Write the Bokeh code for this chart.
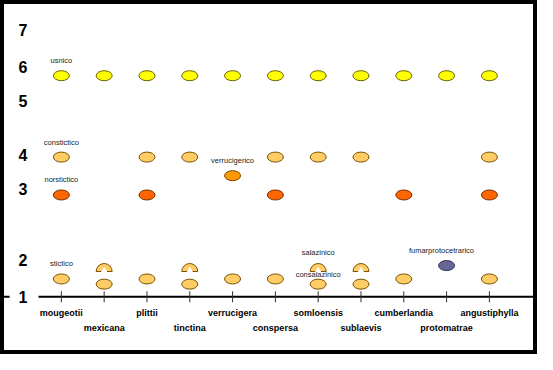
import math
from bokeh.plotting import figure
from bokeh.models import Range1d, Span
from bokeh.core.properties import value
from bokeh.embed import file_html
from bokeh.resources import INLINE

species = ["mougeotii", "mexicana", "plittii", "tinctina", "verrucigera", "conspersa",
           "somloensis", "sublaevis", "cumberlandia", "protomatrae", "angustiphylla"]

y_tick_values = [1, 2, 3.89, 4.82, 6.26, 7.18, 8.18]
y_tick_labels = ["1", "2", "3", "4", "5", "6", "7"]

# substance rows: level and species in which the substance is present
usnico_species = species[:]
usnico_level = 6.95
constictico_species = ["mougeotii", "plittii", "tinctina", "conspersa", "somloensis", "sublaevis", "angustiphylla"]
constictico_level = 4.76
verrucigerico_species = ["verrucigera"]
verrucigerico_level = 4.26
norstictico_species = ["mougeotii", "plittii", "conspersa", "cumberlandia", "angustiphylla"]
norstictico_level = 3.74
stictico_species = ["mougeotii", "plittii", "verrucigera", "conspersa", "cumberlandia", "angustiphylla"]
stictico_level = 1.48
salazinico_species = ["mexicana", "tinctina", "somloensis", "sublaevis"]
salazinico_level = 1.68
consalazinico_species = ["mexicana", "tinctina", "somloensis", "sublaevis"]
consalazinico_level = 1.34
fumar_species = ["protomatrae"]
fumar_level = 1.84

xi = {s: i for i, s in enumerate(species)}

p = figure(width=537, height=354, x_range=Range1d(-1.422, 11.124), y_range=Range1d(-0.553, 8.974),
           output_backend="svg", toolbar_location=None, min_border=0,
           x_axis_location=None, y_axis_location=None)
p.grid.visible = False
p.outline_line_color = "black"
p.outline_line_width = 7
p.background_fill_color = "white"
p.border_fill_color = "white"

# axis line at level 1 (drawn beneath the glyphs)
p.add_layout(Span(location=1, dimension="width", line_color="black", line_width=2, level="underlay"))
p.scatter(x=list(range(len(species))), y=[1] * len(species), marker="dash", angle=math.pi / 2,
          size=11, line_color="#333333", line_width=1)

# y labels
p.text(x=[-0.872] * len(y_tick_values), y=y_tick_values, text=y_tick_labels,
       text_font=value("Liberation Sans"), text_font_style="bold", text_font_size="16px",
       text_align="center", text_baseline="middle", text_color="black",
       background_fill_color="white", padding=[9, 11, 1, 1])

# species labels, staggered
even = [i for i in range(len(species)) if i % 2 == 0]
odd = [i for i in range(len(species)) if i % 2 == 1]
p.text(x=even, y=[1] * len(even), text=[species[i] for i in even], y_offset=16,
       text_font=value("Liberation Sans"), text_font_style="bold", text_font_size="9px",
       text_align="center", text_baseline="middle", text_color="black")
p.text(x=odd, y=[1] * len(odd), text=[species[i] for i in odd], y_offset=31,
       text_font=value("Liberation Sans"), text_font_style="bold", text_font_size="9px",
       text_align="center", text_baseline="middle", text_color="black")


def dots(sp, level, fill, line):
    p.ellipse(x=[xi[s] for s in sp], y=[level] * len(sp), width=16, height=10,
              width_units="screen", height_units="screen", fill_color=fill, line_color=line, line_width=1)


dots(usnico_species, usnico_level, "#FFFF00", "#6b6200")
dots(constictico_species, constictico_level, "#FFCC66", "#7a5200")
dots(verrucigerico_species, verrucigerico_level, "#FF9900", "#7a4000")
dots(norstictico_species, norstictico_level, "#FF6600", "#7a2a00")
dots(stictico_species, stictico_level, "#FFCC66", "#7a5200")
dots(consalazinico_species, consalazinico_level, "#FFCC66", "#7a5200")
dots(fumar_species, fumar_level, "#666699", "#2e2e55")

# salazinico half-moons
sx = [xi[s] for s in salazinico_species]
p.wedge(x=sx, y=[salazinico_level] * len(sx), radius=8, radius_units="screen",
        start_angle=0, end_angle=math.pi, fill_color="#FFCC66", line_color="#7a5200", line_width=1)
p.scatter(x=sx, y=[salazinico_level] * len(sx), marker="triangle", size=7,
          fill_color="white", line_color="white")

# substance labels
lab_names = ["usnico", "constictico", "norstictico", "verrucigerico", "stictico", "salazinico", "fumarprotocetrarico"]
lab_x = [xi["mougeotii"], xi["mougeotii"], xi["mougeotii"], xi["verrucigera"], xi["mougeotii"],
         xi["somloensis"], xi["protomatrae"] - 0.12]
lab_y = [usnico_level, constictico_level, norstictico_level, verrucigerico_level, stictico_level,
         salazinico_level + 0.1, fumar_level]
p.text(x=lab_x, y=lab_y, text=lab_names, y_offset=-15,
       text_font=value("Liberation Sans"), text_font_size="7.5px",
       text_align="center", text_baseline="middle", text_color="#222222")
p.text(x=[xi["somloensis"]], y=[consalazinico_level], text=["consalazinico"], y_offset=-10,
       text_font=value("Liberation Sans"), text_font_size="7.5px",
       text_align="center", text_baseline="middle", text_color="#222222")

open("out.html", "w").write(file_html(p, INLINE))
